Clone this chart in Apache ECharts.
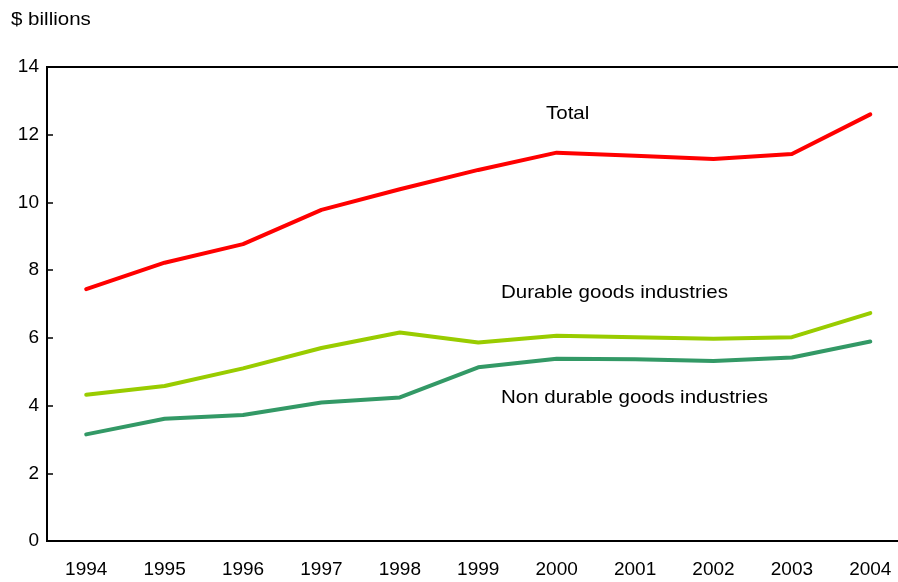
<!DOCTYPE html>
<html>
<head>
<meta charset="utf-8">
<script src="https://cdn.jsdelivr.net/npm/echarts@6/dist/echarts.min.js"></script>
<style>
html,body{margin:0;padding:0;background:#fff;}
#chart{width:898px;height:582px;}
</style>
</head>
<body>
<div id="chart"></div>
<script>
const years = ['1994','1995','1996','1997','1998','1999','2000','2001','2002','2003','2004'];
const total = [7.44, 8.22, 8.77, 9.78, 10.39, 10.96, 11.47, 11.38, 11.28, 11.43, 12.60];
const durable = [4.32, 4.58, 5.10, 5.70, 6.16, 5.86, 6.06, 6.02, 5.97, 6.02, 6.73];
const nonDurable = [3.15, 3.61, 3.72, 4.09, 4.24, 5.13, 5.38, 5.37, 5.32, 5.42, 5.89];
const yTicks = [0, 2, 4, 6, 8, 10, 12, 14];
const unitLabel = '$ billions';
const seriesNames = ['Total', 'Durable goods industries', 'Non durable goods industries'];

const FONT = '"Liberation Sans", Arial, sans-serif';
const chart = echarts.init(document.getElementById('chart'), null, {renderer: 'canvas'});
const lineSeries = (name, data, color) => ({
  name, type: 'line', data, symbol: 'none', smooth: false,
  lineStyle: {color, width: 4, cap: 'round', join: 'round'},
  itemStyle: {color}, animation: false
});
const note = (text, x, y) => ({
  type: 'text', x, y, scaleX: 1.08, scaleY: 1,
  style: {text, font: '19px ' + FONT, fill: '#000', textVerticalAlign: 'middle'}
});
chart.setOption({
  animation: false,
  grid: {left: 47, top: 67, height: 474, width: 862.5, show: true, borderColor: '#000', borderWidth: 2,
         backgroundColor: 'transparent', containLabel: false, outerBoundsMode: 'none'},
  xAxis: {
    type: 'category', data: years, boundaryGap: true,
    axisLine: {lineStyle: {color: '#000', width: 2}},
    axisTick: {inside: true, length: 6, lineStyle: {color: '#000', width: 1.5}},
    axisLabel: {color: '#000', fontFamily: FONT, fontSize: 19, margin: 19}
  },
  yAxis: {
    type: 'value', min: yTicks[0], max: yTicks[yTicks.length - 1], interval: 2,
    axisLine: {show: true, lineStyle: {color: '#000', width: 2}},
    axisTick: {show: true, inside: true, length: 6, lineStyle: {color: '#000', width: 1.5}},
    splitLine: {show: false},
    axisLabel: {color: '#000', fontFamily: FONT, fontSize: 19, margin: 8}
  },
  series: [
    lineSeries(seriesNames[0], total, '#ff0000'),
    lineSeries(seriesNames[1], durable, '#99cc00'),
    lineSeries(seriesNames[2], nonDurable, '#339966')
  ],
  graphic: [
    note(unitLabel, 11, 20),
    note(seriesNames[0], 546, 114),
    note(seriesNames[1], 501, 293),
    note(seriesNames[2], 501, 398)
  ]
});
</script>
</body>
</html>
